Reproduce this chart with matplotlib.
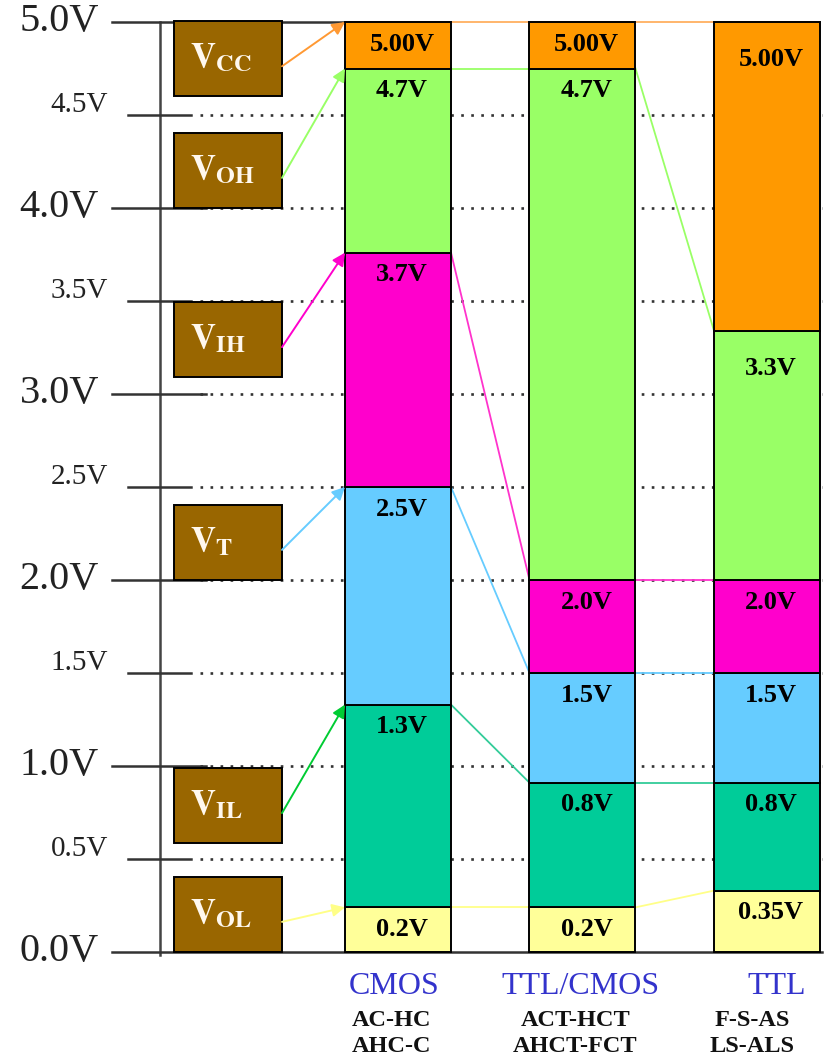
import matplotlib.pyplot as plt

plt.rcParams['font.family'] = ['Liberation Serif', 'DejaVu Serif']
plt.rcParams['mathtext.fontset'] = 'stix'

# logic families and the voltage levels (bottom to top: VOL, VIL, VT, VIH, VOH, VCC)
families = ['CMOS', 'TTL/CMOS', 'TTL']
sub_names = [['AC-HC', 'AHC-C'], ['ACT-HCT', 'AHCT-FCT'], ['F-S-AS', 'LS-ALS']]
levels = ['OL', 'IL', 'T', 'IH', 'OH', 'CC']

# top of each coloured block as drawn, in volts
cmos_top = [0.24, 1.33, 2.5, 3.76, 4.75, 5.0]
ttlcmos_top = [0.24, 0.91, 1.5, 2.0, 4.75, 5.0]
ttl_top = [0.33, 0.91, 1.5, 2.0, 3.34, 5.0]
tops = [cmos_top, ttlcmos_top, ttl_top]

cmos_lbl = ['0.2V', '1.3V', '2.5V', '3.7V', '4.7V', '5.00V']
ttlcmos_lbl = ['0.2V', '0.8V', '1.5V', '2.0V', '4.7V', '5.00V']
ttl_lbl = ['0.35V', '0.8V', '1.5V', '2.0V', '3.3V', '5.00V']
labels = [cmos_lbl, ttlcmos_lbl, ttl_lbl]

major_ticks = [0, 1, 2, 3, 4, 5]
minor_ticks = [0.5, 1.5, 2.5, 3.5, 4.5]

# left side level boxes (bottom in volts)
box_bottom = [0.0, 0.585, 2.0, 3.09, 4.0, 4.6]
box_h = 0.405

seg_colors = ['#FFFF99', '#00CC99', '#66CCFF', '#FF00CC', '#99FF66', '#FF9900']
line_colors = ['#FFFF88', '#33CC99', '#66CCFF', '#FF33CC', '#99FF66', '#FFB060']
arrow_colors = ['#FFFF88', '#00CC33', '#66CCFF', '#FF00CC', '#99FF66', '#FF9933']

# ---- layout (pixels -> volts) ----
W, H = 828, 1059
px = 186.0          # pixels per volt
y0 = 952            # pixel row of 0 V
bar_x = [398, 582.5, 767]
bar_w = 106
box_x, box_w = 228, 108

fig = plt.figure(figsize=(W / 100, H / 100), dpi=100)
ax = fig.add_axes([0, 0, 1, 1])
ax.set_xlim(0, W)
ax.set_ylim((y0 - H) / px, y0 / px)
ax.axis('off')

# dotted grid
for v in minor_ticks + major_ticks[1:-1]:
    ax.plot([200, 822], [v, v], color='#333333', lw=1.9, dashes=(1, 2.8), zorder=1)

# axis line and ticks
ax.plot([160, 160], [5.0, -3 / px], color='#444444', lw=1.8, zorder=2)
for v in major_ticks:
    x_end = 206
    if v == 5:
        x_end = 345
    if v == 0:
        x_end = 822
    ax.plot([112, x_end], [v, v], color='#333333', lw=1.8, zorder=2)
    ax.text(99, v, f'{v:.1f}V', ha='right', va='center', fontsize=29, color='#222222')
for v in minor_ticks:
    ax.plot([128, 191], [v, v], color='#333333', lw=1.8, zorder=2)
    ax.text(108, v + 3 / px, f'{v:.1f}V', ha='right', va='baseline', fontsize=21, color='#222222')

# coloured stacks
for i, top in enumerate(tops):
    bottom = 0
    for j, t in enumerate(top):
        ax.bar(bar_x[i], t - bottom, bottom=bottom, width=bar_w, color=seg_colors[j],
               edgecolor='black', linewidth=1.4, zorder=3)
        off = -16
        if i == 2 and j >= 4:
            off = -27
        ax.annotate(labels[i][j], xy=(bar_x[i] + 4, t), xytext=(0, off), textcoords='offset points',
                    ha='center', va='center', fontsize=19, fontweight='bold', zorder=5)
        bottom = t

# connectors between stacks
for i in range(len(tops) - 1):
    for j in range(len(levels)):
        ax.plot([bar_x[i] + bar_w / 2, bar_x[i + 1] - bar_w / 2], [tops[i][j], tops[i + 1][j]],
                color=line_colors[j], lw=1.3, zorder=2.5)

# level boxes with arrows
for j, name in enumerate(levels):
    b = box_bottom[j]
    ax.bar(box_x, box_h, bottom=b, width=box_w, color='#996600', edgecolor='black',
           linewidth=1.4, zorder=3)
    ax.text(box_x - box_w / 2 + 16, b + box_h / 2, r'$\mathbf{V}_{\mathbf{' + name + '}}$',
            ha='left', va='center', fontsize=25, color='#FFF8EE', zorder=4)
    ax.annotate('', xy=(bar_x[0] - bar_w / 2, cmos_top[j]), xytext=(box_x + box_w / 2, b + 0.4 * box_h),
                arrowprops=dict(arrowstyle='-|>', color=arrow_colors[j], lw=1.4,
                                mutation_scale=19, shrinkA=0, shrinkB=0), zorder=4)

# family names under the stacks
name_shift = [-4, -2, 10]
sub_shift = [-6, -7, -15]
for i, fam in enumerate(families):
    ax.text(bar_x[i] + name_shift[i], -35 / px, fam, ha='center', va='center', fontsize=23,
            color='#3333CC')
    ax.text(bar_x[i] + sub_shift[i], -68 / px, sub_names[i][0], ha='center', va='center',
            fontsize=17.5, fontweight='bold', color='#111111')
    ax.text(bar_x[i] + sub_shift[i], -95 / px, sub_names[i][1], ha='center', va='center',
            fontsize=17.5, fontweight='bold', color='#111111')

fig.savefig('out.png', dpi=100)
